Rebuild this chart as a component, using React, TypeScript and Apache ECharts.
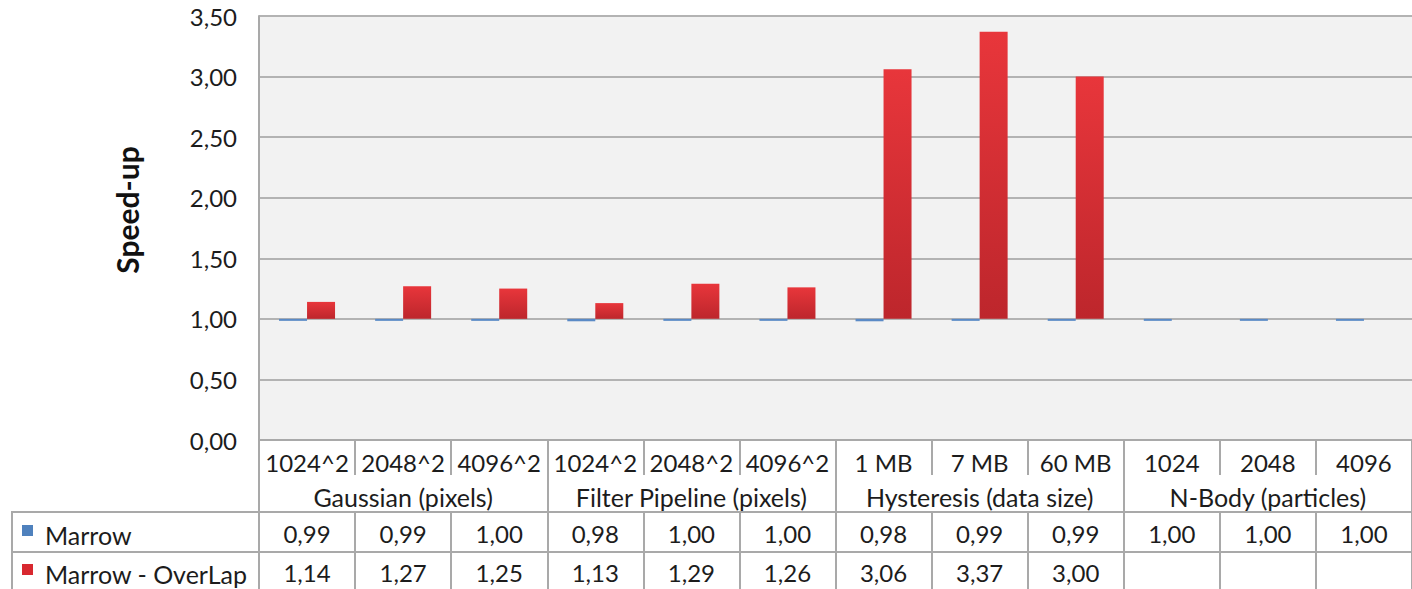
import React, { useEffect, useRef } from "react";
import * as echarts from "echarts";

const categories = ["1024^2", "2048^2", "4096^2", "1024^2", "2048^2", "4096^2", "1 MB", "7 MB", "60 MB", "1024", "2048", "4096"];
const groups = ["Gaussian (pixels)", "Filter Pipeline (pixels)", "Hysteresis (data size)", "N-Body (particles)"];
const seriesNames = ["Marrow", "Marrow - OverLap"];
const marrow = [0.99, 0.99, 1.0, 0.98, 1.0, 1.0, 0.98, 0.99, 0.99, 1.0, 1.0, 1.0];
const overlap: (number | null)[] = [1.14, 1.27, 1.25, 1.13, 1.29, 1.26, 3.06, 3.37, 3.0, null, null, null];
const baseline = 1.0;

const FONT = "Lato";
const LINE = "#a9a9a9";
const TXT = "#1c1c1c";
const BAR_W = 28;

const fmt = (v: number | null) => (v == null ? "" : v.toFixed(2).replace(".", ","));

export default function App() {
  const ref = useRef<HTMLDivElement>(null);
  useEffect(() => {
    const chart = echarts.init(ref.current!, null, { renderer: "svg" });
    const GL = 259;
    const lower = (arr: (number | null)[]) => arr.map((v) => (v == null ? null : Math.min(v, baseline)));
    const diff = (arr: (number | null)[]) => arr.map((v) => (v == null ? null : Math.abs(v - baseline)));
    const xCommon = {
      type: "category" as const,
      position: "bottom" as const,
      boundaryGap: true,
    };
    chart.setOption({
      animation: false,
      textStyle: { fontFamily: FONT },
      grid: { left: GL, right: 0, top: 16, bottom: 149, show: true, backgroundColor: "#f2f2f2", borderWidth: 0 },
      xAxis: [
        {
          ...xCommon,
          data: categories,
          offset: 0,
          axisLine: { show: true, lineStyle: { color: LINE, width: 2 } },
          axisTick: { show: true, length: 35, interval: 0, lineStyle: { color: LINE, width: 2 } },
          axisLabel: { interval: 0, margin: 10, fontSize: 24, color: TXT, fontFamily: FONT },
        },
        {
          ...xCommon,
          data: groups,
          offset: 0,
          axisLine: { show: false },
          axisTick: { show: true, length: 72, interval: 0, lineStyle: { color: LINE, width: 2 } },
          axisLabel: { interval: 0, margin: 44, fontSize: 25, color: TXT, fontFamily: FONT },
        },
        {
          ...xCommon,
          data: marrow.map(fmt),
          offset: 72,
          axisLine: { show: true, lineStyle: { color: LINE, width: 2 } },
          axisTick: { show: true, length: 80, interval: 0, lineStyle: { color: LINE, width: 2 } },
          axisLabel: { interval: 0, margin: 9, fontSize: 24, color: TXT, fontFamily: FONT },
        },
        {
          ...xCommon,
          data: overlap.map(fmt),
          offset: 112,
          axisLine: { show: true, lineStyle: { color: LINE, width: 2 } },
          axisTick: { show: false },
          axisLabel: { interval: 0, margin: 8, fontSize: 24, color: TXT, fontFamily: FONT },
        },
      ],
      yAxis: {
        type: "value",
        min: 0,
        max: 3.5,
        interval: 0.5,
        name: "Speed-up",
        nameLocation: "middle",
        nameGap: 117,
        nameRotate: 90,
        nameTextStyle: { fontSize: 30, fontWeight: "bold", color: "#111", fontFamily: FONT, padding: [0, 0, 0, 36] },
        axisLine: { show: true, lineStyle: { color: LINE, width: 2 } },
        axisTick: { show: false },
        splitLine: { show: true, lineStyle: { color: "#b3b3b3", width: 2 } },
        axisLabel: { margin: 22, fontSize: 24, color: TXT, fontFamily: FONT, formatter: (v: number) => fmt(v) },
      },
      series: [
        {
          type: "bar",
          name: "mSlot",
          stack: "m",
          barWidth: BAR_W,
          barGap: "0%",
          silent: true,
          itemStyle: { color: "transparent" },
          data: lower(marrow),
        },
        {
          type: "custom",
          name: seriesNames[0],
          z: 3,
          data: marrow.map((v, i) => [i, v]),
          renderItem: (params: any, api: any) => {
            const i = api.value(0);
            const v = api.value(1);
            const top = api.coord([i, baseline]);
            const bot = api.coord([i, v]);
            const h = Math.max(bot[1] - top[1], 2);
            return {
              type: "rect",
              shape: { x: top[0] - BAR_W, y: top[1], width: BAR_W, height: h },
              style: { fill: "#5a8ac6" },
            };
          },
        },
        {
          type: "bar",
          name: "oBase",
          stack: "o",
          barWidth: BAR_W,
          barGap: "0%",
          silent: true,
          itemStyle: { color: "transparent" },
          data: lower(overlap),
        },
        {
          type: "bar",
          name: seriesNames[1],
          stack: "o",
          barWidth: BAR_W,
          barGap: "0%",
          itemStyle: {
            color: new echarts.graphic.LinearGradient(0, 0, 0, 1, [
              { offset: 0, color: "#e8363b" },
              { offset: 1, color: "#bd262c" },
            ]),
          },
          data: diff(overlap),
        },
      ],
      graphic: [
        { type: "line", shape: { x1: 12, y1: 511, x2: 12, y2: 589 }, style: { stroke: LINE, lineWidth: 2 } },
        { type: "line", shape: { x1: 12, y1: 512, x2: GL, y2: 512 }, style: { stroke: LINE, lineWidth: 2 } },
        { type: "line", shape: { x1: 12, y1: 552, x2: GL, y2: 552 }, style: { stroke: LINE, lineWidth: 2 } },
        { type: "rect", shape: { x: 22, y: 525, width: 11, height: 11 }, style: { fill: "#4f81bd" } },
        { type: "rect", shape: { x: 22, y: 564, width: 11, height: 11 }, style: { fill: "#d8282f" } },
        { type: "text", x: 45, y: 535, style: { text: seriesNames[0], fontSize: 25, fill: TXT, fontFamily: FONT, verticalAlign: "middle" } },
        { type: "text", x: 45, y: 574, style: { text: seriesNames[1], fontSize: 25, fill: TXT, fontFamily: FONT, verticalAlign: "middle" } },
      ],
    });
    return () => chart.dispose();
  }, []);
  return <div ref={ref} style={{ position: "fixed", left: 0, top: 0, width: 1412, height: 589, background: "#fff" }} />;
}
